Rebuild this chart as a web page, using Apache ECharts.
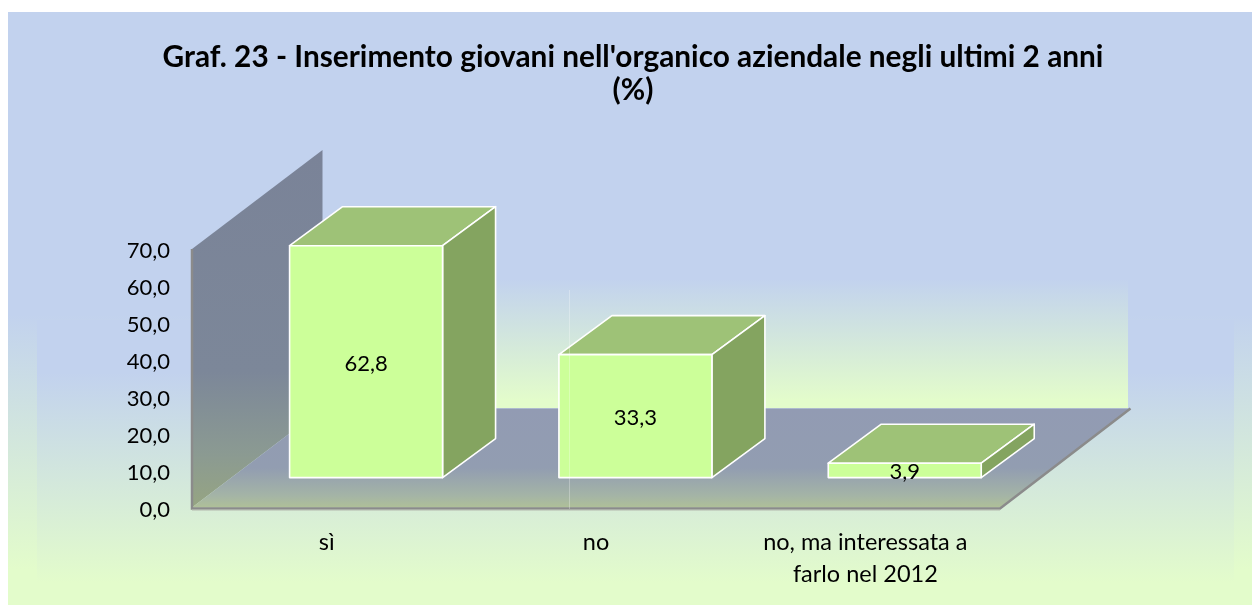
<!DOCTYPE html>
<html><head><meta charset="utf-8">
<style>html,body{margin:0;padding:0;background:#fff}#c{width:1252px;height:605px}</style>
<script src="https://cdn.jsdelivr.net/npm/echarts@6/dist/echarts.min.js"></script>
</head><body><div id="c"></div>
<script>
const titleText = "Graf. 23 - Inserimento giovani nell'organico aziendale negli ultimi 2 anni\n(%)";
const categories = ["sì", "no", "no, ma interessata a\nfarlo nel 2012"];
const values = [62.8, 33.3, 3.9];
const yTicks = {min: 0, max: 70, interval: 10};

const BLUE = '#C2D2EE', GREEN = '#E3FCCB';
const FONT = 'Lato, Carlito, "Open Sans", sans-serif';
const comma = v => v.toFixed(1).replace('.', ',');
const vgrad = stops => ({type:'linear',x:0,y:0,x2:0,y2:1,colorStops:stops.map(s=>({offset:s[0],color:s[1]}))});
// Perspective offsets of the 3D box
const FLOOR_DX = 130.5, FLOOR_DY = -99, BAR_FRAC_DEPTH = 0.302, BAR_DX = 53, BAR_DY = -39, BAR_W = 0.568;

function bgRect(x,y,w,h,stops,z){
  return {type:'rect',silent:true,z:z,shape:{x,y,width:w,height:h},style:{fill:vgrad(stops)}};
}

const option = {
  animation:false,
  backgroundColor:'#fff',
  title:{text:titleText,left:628,top:36,textAlign:'center',
    textStyle:{fontFamily:FONT,fontWeight:'bold',fontSize:29.8,lineHeight:33,color:'#000'}},
  graphic:[
    bgRect(8,12,1244,593,[[0,BLUE],[0.51,BLUE],[0.94,GREEN],[1,GREEN]],-30),
    bgRect(37,320,1197,263,[[0,BLUE],[0.2,BLUE],[1,GREEN]],-29),
    bgRect(192,150,936,258,[[0,BLUE],[0.5,BLUE],[0.97,GREEN],[1,GREEN]],-28),
    {type:'line',silent:true,z:50,shape:{x1:569.5,y1:290,x2:569.5,y2:509},style:{stroke:'rgba(255,255,255,0.28)',lineWidth:1}}
  ],
  grid:{left:192,right:252,top:249,bottom:97.5},
  xAxis:{type:'category',data:categories,axisLine:{show:false},axisTick:{show:false},
    axisLabel:{fontFamily:FONT,fontSize:23.5,lineHeight:32,color:'#000',margin:19,interval:0}},
  yAxis:{type:'value',min:yTicks.min,max:yTicks.max,interval:yTicks.interval,splitLine:{show:false},
    axisLine:{show:false},axisTick:{show:false},
    axisLabel:{fontFamily:FONT,fontSize:22,color:'#000',margin:22,verticalAlign:'top',lineHeight:4,formatter:comma}},
  series:[
    {type:'custom',coordinateSystem:'cartesian2d',data:[[0,0]],silent:true,z:1,clip:false,
     renderItem(params,api){
       const g=params.coordSys, L=g.x, R=g.x+g.width, T=g.y, B=g.y+g.height;
       const dx=FLOOR_DX, dy=FLOOR_DY;
       return {type:'group',children:[
         {type:'polygon',shape:{points:[[L,B],[L,T],[L+dx,T+dy],[L+dx,B+dy]]},
          style:{fill:vgrad([[0,'#7a8398'],[0.62,'#7c8799'],[0.85,'#8b9a92'],[1,'#96a582']])}},
         {type:'polygon',shape:{points:[[L,B],[R,B],[R+dx,B+dy],[L+dx,B+dy]]},
          style:{fill:vgrad([[0,'#929BB3'],[0.6,'#929DB1'],[0.88,'#A4B4A6'],[1,'#AFC098']])}},
         {type:'polyline',shape:{points:[[L,T],[L,B+1],[R,B+1],[R+dx,B+dy]]},
          style:{fill:null,stroke:'#8b8b8b',lineWidth:2.5}},
         {type:'line',shape:{x1:L,y1:B+2.5,x2:R,y2:B+2.5},style:{stroke:'#b4b8ae',lineWidth:1}}
       ]};
     }},
    {type:'custom',coordinateSystem:'cartesian2d',data:values.map((v,i)=>[i,v]),silent:true,z:3,clip:false,
     encode:{x:0,y:1},
     renderItem(params,api){
       const i=api.value(0), v=api.value(1);
       const band=api.size([1,0])[0];
       const top=api.coord([i,v]), base=api.coord([i,0]);
       const w=band*BAR_W;
       const x0=base[0]-w/2+FLOOR_DX*BAR_FRAC_DEPTH, x1=x0+w;
       const sh=FLOOR_DY*BAR_FRAC_DEPTH;
       const yB=base[1]+sh, yT=top[1]+sh;
       const st={stroke:'#fff',lineWidth:1.6,lineJoin:'round'};
       const dx=BAR_DX,dy=BAR_DY;
       return {type:'group',children:[
         {type:'polygon',shape:{points:[[x0,yT],[x1,yT],[x1+dx,yT+dy],[x0+dx,yT+dy]]},style:{fill:'#9EC277',...st}},
         {type:'polygon',shape:{points:[[x1,yT],[x1+dx,yT+dy],[x1+dx,yB+dy],[x1,yB]]},style:{fill:'#84A460',...st}},
         {type:'rect',shape:{x:x0,y:yT,width:w,height:yB-yT},style:{fill:'#CCFF99',...st}},
         {type:'text',z2:10,style:{x:(x0+x1)/2,y:(yT+yB)/2+2,text:comma(v),align:'center',verticalAlign:'middle',
            font:'22px '+FONT,fill:'#000'}}
       ]};
     }}
  ]
};
const chart=echarts.init(document.getElementById('c'),null,{renderer:'canvas'});
chart.setOption(option);
</script></body></html>
